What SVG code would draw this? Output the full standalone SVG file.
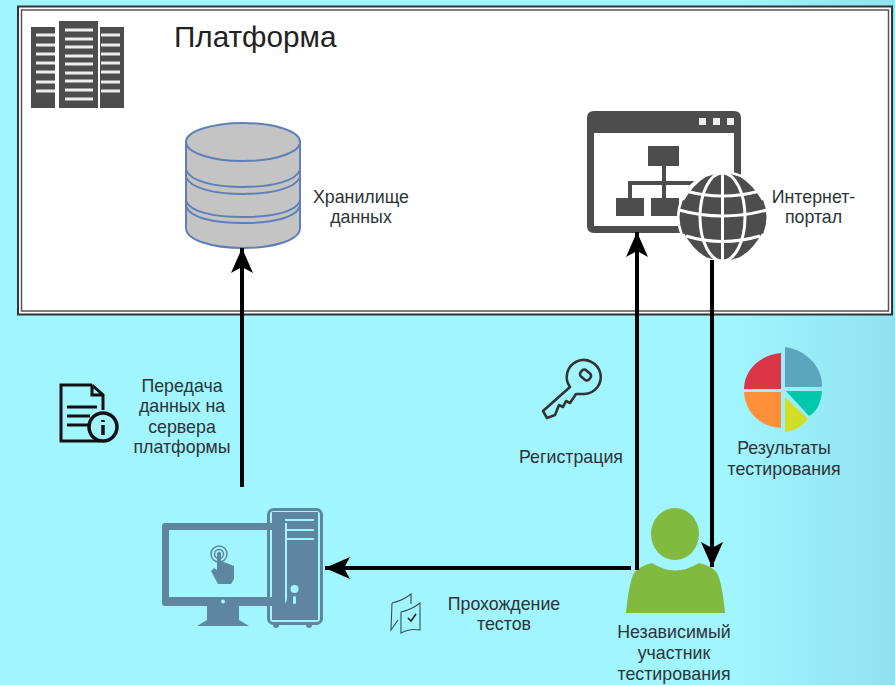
<svg xmlns="http://www.w3.org/2000/svg" width="895" height="685" viewBox="0 0 895 685">
<style>
text{font-family:"Liberation Sans",Arial,sans-serif;font-size:17.800px;fill:#2c3436;text-anchor:middle}
.title{font-size:29.700px;text-anchor:start;fill:#222}
.dark{fill:#4d4d4d}
.db{fill:#c4c4c4;stroke:#5f7fb8;stroke-width:2}
.line{fill:none;stroke:#5f7fb8;stroke-width:2}
.wire{fill:none;stroke:#000;stroke-width:4}
.slate{fill:#5f86a0}
.ink{fill:none;stroke:#111;stroke-width:3}
.key{fill:none;stroke:#333;stroke-width:2.600;stroke-linejoin:round}
.green{fill:#82b93f}
.gl{stroke:#fff;stroke-width:3;fill:none}
.gap{fill:none;stroke:#a0f5ff}
</style>
<defs>
<linearGradient id="bg" x1="0" x2="1" y1="0" y2="0"><stop offset="0.82" stop-color="#a0f5ff"/><stop offset="1" stop-color="#90e2ee"/></linearGradient>
<marker id="ah" markerUnits="userSpaceOnUse" markerWidth="26" markerHeight="24" refX="25" refY="12" orient="auto"><path d="M0 1 L25 12 L0 23 L6 12 Z" fill="#000"/></marker>
</defs>
<rect width="895" height="685" fill="url(#bg)"/>

<g id="platform">
<rect x="18" y="6.500" width="874" height="308" fill="#fff" stroke="#333" stroke-width="2"/>
<rect x="21.500" y="10" width="867" height="301" fill="none" stroke="#555" stroke-width="1.500"/>
<text class="title" x="174" y="47">Платформа</text>
</g>

<g id="servers">
<rect class="dark" x="31" y="27" width="24" height="81"/>
<rect class="dark" x="59" y="21" width="39" height="87"/>
<rect class="dark" x="100" y="27" width="24" height="81"/>
<path stroke="#eee" stroke-width="3" d="M36 35H55M36 45H55M36 54H55M36 63H55M36 72H55M36 82H55M36 91H55M65 30H93M65 39H93M65 47H93M65 56H93M65 64H93M65 73H93M65 81H93M65 90H93M65 99H93M101 35H120M101 45H120M101 54H120M101 63H120M101 72H120M101 82H120M101 91H120"/>
</g>

<g id="storage">
<path class="db" d="M186 142V228C186 240 212 248 243 248C274 248 300 240 300 228V142Z"/>
<ellipse class="db" cx="243" cy="142" rx="57" ry="19"/>
<path class="line" d="M186 170C190 181 214 187 243 187C272 187 296 181 300 170M186 177C190 188 214 194 243 194C272 194 296 188 300 177M186 201C190 212 214 217 243 217C272 217 296 212 300 201M186 206C190 218 214 223 243 223C272 223 296 218 300 206"/>
<text x="361" y="203">Хранилище</text>
<text x="361" y="223">данных</text>
</g>

<g id="portal">
<path class="dark" fill-rule="evenodd" d="M594 111H734Q741 111 741 118V226Q741 233 734 233H594Q587 233 587 226V118Q587 111 594 111ZM594 133V226H734V133Z"/>
<rect x="699" y="118" width="7" height="7" fill="#eee"/><rect x="713" y="118" width="7" height="7" fill="#eee"/><rect x="727" y="118" width="7" height="7" fill="#eee"/>
<rect class="dark" x="648" y="146" width="31" height="20"/>
<rect class="dark" x="616" y="198" width="28" height="18"/>
<rect class="dark" x="651" y="198" width="28" height="18"/>
<path d="M664 166V198M630 198V183H695" fill="none" stroke="#4d4d4d" stroke-width="4"/>
<circle cx="723" cy="217" r="46" fill="#fff"/>
<circle class="dark" cx="723" cy="217" r="43.500"/>
<g class="gl">
<path d="M722.500 173V261"/>
<ellipse cx="722.500" cy="217" rx="22.500" ry="44"/>
<path d="M679 210Q722 222 767 210M686 191Q722 201 760 191M686 236Q722 247 760 236"/>
<path d="M705 176Q692 184 683 200M741 176Q754 184 763 200M683 234Q692 250 705 258M763 234Q754 250 741 258" stroke-width="2.500"/>
</g>
<text x="813.500" y="203">Интернет-</text>
<text x="813.500" y="223">портал</text>
</g>

<g id="key">
<path class="key" d="M570 387A17 17 0 1 1 584 394L576 394L570 403L566 401L563 407L559 405L555 415L547 418L543 411Z"/>
<rect class="key" x="580" y="371" width="11" height="8" rx="3" transform="rotate(40 585.500 375)" stroke-width="2"/>
<text x="571" y="463">Регистрация</text>
</g>

<g id="results">
<path fill="#dc3548" d="M781 353V389H744C744 370 760 355 781 353Z"/>
<path fill="#5aa6be" d="M785 347C806 350 822 366 822 386Q822 387 820 387H785Z"/>
<path fill="#ff8f38" d="M744 392H781V428C760 427 745 412 744 392Z"/>
<path fill="#00c9ab" d="M786 391H822C821 404 816 412 809 416Z"/>
<path fill="#d2dd28" d="M785 397L808 419C801 428 793 431 785 432Z"/>
<text x="784" y="454">Результаты</text>
<text x="784" y="475">тестирования</text>
</g>

<g id="participant">
<ellipse class="green" cx="675" cy="534" rx="24" ry="26"/>
<path class="green" d="M626 613Q629 582 634 573Q640 566 652 563Q675 578 699 563Q712 566 717 573Q722 582 725 613Z"/>
<text x="674" y="638">Независимый</text>
<text x="674" y="659">участник</text>
<text x="674" y="680">тестирования</text>
</g>

<g id="doc">
<path class="ink" d="M92 385H61V441H100M92 385L103 395V410M92 385V395H103"/>
<path class="ink" d="M67 407H97M67 416H90M67 425H90"/>
<circle cx="103" cy="427" r="14" fill="none" stroke="#111" stroke-width="3.500"/>
<path d="M103 420V422M103 425V435" stroke="#111" stroke-width="3.500"/>
<text x="182" y="392">Передача</text>
<text x="182" y="412">данных на</text>
<text x="182" y="433">сервера</text>
<text x="182" y="453">платформы</text>
</g>

<g id="computer">
<rect x="268.500" y="509.500" width="53" height="114" rx="5" fill="none" stroke="#5f86a0" stroke-width="3"/>
<path class="slate" d="M272 512H318V620H272Z"/>
<circle class="slate" cx="276" cy="625" r="3"/>
<circle class="slate" cx="309" cy="625" r="3"/>
<path class="gap" stroke-width="2" d="M285 520H314M285 530H314M285 539H314"/>
<path class="gap" stroke-width="2" d="M286 523V598Q286 604 280 604H268"/>
<circle cx="294.500" cy="589" r="4" fill="#a0f5ff"/>
<rect x="293" y="596" width="3" height="8" rx="1.500" fill="#a0f5ff"/>
<path class="slate" fill-rule="evenodd" d="M165 523H282Q285 523 285 526V603Q285 606 282 606H165Q162 606 162 603V526Q162 523 165 523ZM169 530V597H279V530Z"/>
<circle cx="223" cy="601.500" r="2" fill="#a0f5ff"/>
<path class="slate" d="M207 606H239V620L249 626H197L207 620Z"/>
<circle cx="219" cy="554" r="8" fill="none" stroke="#5f86a0" stroke-width="1.500"/>
<circle cx="219" cy="554" r="4.500" fill="none" stroke="#5f86a0" stroke-width="1.500"/>
<path class="slate" d="M217 553Q220 551 221 553V561L234 566V579L231 584H218L211 571L214 568L217 570Z"/>
</g>

<g id="tests">
<path d="M392 603Q402 601 411 594V604M392 603L391 630L398 620M401 612Q411 610 420 603V630Q410 628 401 633Z" fill="none" stroke="#39505a" stroke-width="1.100"/>
<path d="M408 618L411 621L416 614" fill="none" stroke="#222" stroke-width="1.500"/>
<text x="504" y="610">Прохождение</text>
<text x="504" y="630">тестов</text>
</g>

<g id="connectors">
<path class="wire" marker-end="url(#ah)" d="M242 487V248"/>
<path class="wire" marker-end="url(#ah)" d="M637 570V232"/>
<path class="wire" marker-end="url(#ah)" d="M712 260V567"/>
<path class="wire" marker-end="url(#ah)" d="M631 568H325"/>
</g>
</svg>
